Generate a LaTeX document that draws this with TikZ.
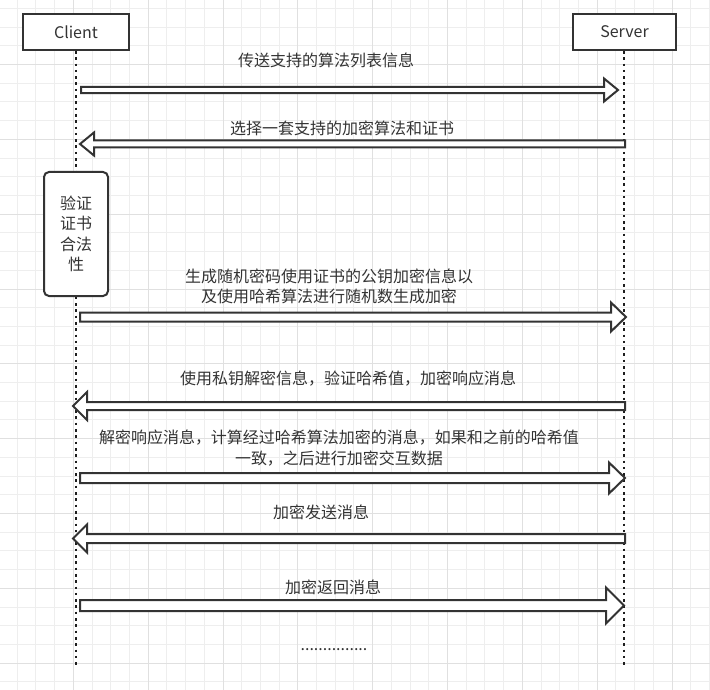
\documentclass[tikz,border=0pt]{standalone}
\usepackage{fontspec}
\setmainfont{Noto Sans CJK SC}
\usetikzlibrary{calc}
\definecolor{ink}{HTML}{333333}
\definecolor{dotink}{HTML}{1E1E1E}
\definecolor{gridminor}{HTML}{EEEEEE}
\definecolor{gridmajor}{HTML}{E0E0E0}
\tikzset{
  actor/.style={draw=ink, line width=2pt, fill=white, minimum height=36pt, inner sep=0pt,
    font=\fontsize{16}{20}\selectfont, text=ink},
  lifeline/.style={draw=dotink, line width=2.6pt, dash pattern=on 2.6pt off 3.7pt},
  fat/.style={draw=ink, line width=2pt, fill=white, line join=miter},
  msg/.style={font=\fontsize{16}{20.3}\selectfont, text=ink, align=center, inner sep=0pt},
  checkbox/.style={draw=ink, line width=2pt, fill=white, rounded corners=5pt,
    minimum width=64pt, minimum height=124pt, inner sep=0pt, align=center,
    font=\fontsize{16}{20.5}\selectfont, text=ink},
  gridline/.style={draw=gridminor, line width=1pt},
  gridmaj/.style={draw=gridmajor, line width=1pt}
}
\newcommand\fatarrow[5]{%
  \draw[fat] let \p1=(#1), \p2=(#2), \n1={sign(\x2-\x1)} in
    ({\x1},{\y1+#3pt}) -- ({\x2-(\n1)*#5pt},{\y1+#3pt}) -- ({\x2-(\n1)*#5pt},{\y1+#4pt})
    -- ({\x2},{\y2}) -- ({\x2-(\n1)*#5pt},{\y1-#4pt}) -- ({\x2-(\n1)*#5pt},{\y1-#3pt})
    -- ({\x1},{\y1-#3pt}) -- cycle;}
\begin{document}
\begin{tikzpicture}[x=1pt,y=-1pt]
\useasboundingbox (0,0) rectangle (710,690);
\fill[white] (0,0) rectangle (710,690);
% grid
\foreach \k in {0,...,38}{\draw[gridline] ({-1.5+18.71*\k},0) -- ({-1.5+18.71*\k},690);}
\foreach \k in {-3,...,33}{\draw[gridline] (0,{64.5+18.71*\k}) -- (710,{64.5+18.71*\k});}
\foreach \k in {0,...,9}{\draw[gridmaj] ({-1.5+74.84*\k},0) -- ({-1.5+74.84*\k},690);}
\foreach \k in {0,...,8}{\draw[gridmaj] (0,{64.5+74.84*\k}) -- (710,{64.5+74.84*\k});}

% actors
\node[actor, minimum width=106pt] (client) at (76,32) {Client};
\node[actor, minimum width=103pt] (server) at (624.5,32) {Server};
\coordinate (cend) at (76,665);
\coordinate (send) at (624,665);
\draw[lifeline] (client.south) -- (cend);
\draw[lifeline] (server.south -| send) -- (send);

% check box
\node[checkbox] (check) at (76,234) {验证\\证书\\合法\\性};

% arrow end points
\coordinate (a1t) at (81,90);    \coordinate (a1h) at (618,90);
\coordinate (a2t) at (625,144);  \coordinate (a2h) at (80,144);
\coordinate (a3t) at (80,317);   \coordinate (a3h) at (626,317);
\coordinate (a4t) at (625,406);  \coordinate (a4h) at (73,406);
\coordinate (a5t) at (80,478);   \coordinate (a5h) at (625,478);
\coordinate (a6t) at (625,538.5);\coordinate (a6h) at (73,538.5);
\coordinate (a7t) at (80,605.5); \coordinate (a7h) at (624,605.5);

\fatarrow{a1t}{a1h}{3.2}{11.5}{14}
\fatarrow{a2t}{a2h}{3.5}{11.5}{14}
\fatarrow{a3t}{a3h}{4.5}{14.5}{15}
\fatarrow{a4t}{a4h}{4}{14}{14}
\fatarrow{a5t}{a5h}{5}{15.5}{16}
\fatarrow{a6t}{a6h}{4.5}{14}{14}
\fatarrow{a7t}{a7h}{5.5}{18}{18}

% labels
\node[msg] (l1) at (326,60.7) {传送支持的算法列表信息};
\node[msg] (l2) at (342,128) {选择一套支持的加密算法和证书};
\node[msg] (l3) at (329,286.7) {生成随机密码使用证书的公钥加密信息以\\及使用哈希算法进行随机数生成加密};
\node[msg] (l4) at (348,378.3) {使用私钥解密信息，验证哈希值，加密响应消息};
\node[msg] (l5) at (339,448) {解密响应消息，计算经过哈希算法加密的消息，如果和之前的哈希值\\一致，之后进行加密交互数据};
\node[msg] (l6) at (321,512.7) {加密发送消息};
\node[msg] (l7) at (333,587.3) {加密返回消息};
\node[msg] (dots) at (334,650) {...............};
\end{tikzpicture}
\end{document}
